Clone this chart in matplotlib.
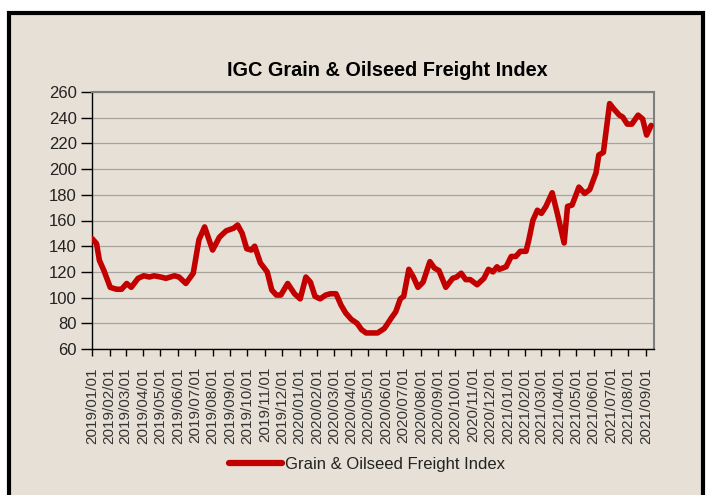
import matplotlib
matplotlib.use("Agg")
import matplotlib.pyplot as plt
import matplotlib.dates as mdates
from matplotlib.patches import Rectangle
import pandas as pd

plt.rcParams['font.family'] = ['Liberation Sans', 'DejaVu Sans']

title = "IGC Grain & Oilseed Freight Index"
series_name = "Grain & Oilseed Freight Index"

dates = [
    "2019-01-01", "2019-01-09", "2019-01-14", "2019-01-22", "2019-02-02", "2019-02-13",
    "2019-02-22", "2019-03-03", "2019-03-11", "2019-03-23", "2019-04-02", "2019-04-12",
    "2019-04-20", "2019-05-02", "2019-05-11", "2019-05-26", "2019-06-03", "2019-06-15",
    "2019-06-28", "2019-07-08", "2019-07-18", "2019-08-01", "2019-08-13", "2019-08-25",
    "2019-09-07", "2019-09-14", "2019-09-22", "2019-09-30", "2019-10-08", "2019-10-14",
    "2019-10-24", "2019-11-05", "2019-11-13", "2019-11-21", "2019-11-29", "2019-12-11",
    "2019-12-23", "2020-01-02", "2020-01-12", "2020-01-20", "2020-01-28", "2020-02-06",
    "2020-02-16", "2020-02-24", "2020-03-05", "2020-03-14", "2020-03-22", "2020-04-01",
    "2020-04-11", "2020-04-19", "2020-04-27", "2020-05-09", "2020-05-17", "2020-05-29",
    "2020-06-10", "2020-06-18", "2020-06-26", "2020-07-02", "2020-07-11", "2020-07-19",
    "2020-07-27", "2020-08-05", "2020-08-17", "2020-08-25", "2020-09-02", "2020-09-14",
    "2020-09-26", "2020-10-03", "2020-10-11", "2020-10-19", "2020-10-27", "2020-11-08",
    "2020-11-20", "2020-11-28", "2020-12-06", "2020-12-13", "2020-12-17", "2020-12-29",
    "2021-01-07", "2021-01-15", "2021-01-23", "2021-02-02", "2021-02-07", "2021-02-14",
    "2021-02-22", "2021-03-01", "2021-03-09", "2021-03-20", "2021-03-29", "2021-04-10",
    "2021-04-16", "2021-04-24", "2021-05-06", "2021-05-16", "2021-05-25", "2021-06-05",
    "2021-06-10", "2021-06-18", "2021-06-29", "2021-07-06", "2021-07-16", "2021-07-22",
    "2021-07-30", "2021-08-07", "2021-08-18", "2021-08-26", "2021-09-02", "2021-09-10",
]
values = [
    146, 142, 129, 121, 108, 106.5,
    106.5, 111, 108, 115, 117, 116,
    117, 116, 115, 117, 116, 111,
    119, 145, 155, 137, 147, 152,
    154, 156.5, 150, 138, 137, 140,
    127, 120, 106, 102, 102, 111,
    103, 99, 116, 112, 101, 99,
    102, 103, 103, 94, 88, 83,
    80, 75, 72.5, 72.5, 72.5, 76,
    84, 89, 99, 101, 122, 116,
    108, 112, 128, 123, 121, 108,
    115, 116, 119, 114, 114, 110,
    115, 122, 120, 124, 122, 124,
    132, 132, 136, 136, 145, 160,
    168, 165.5, 171, 181.6, 165.5, 142.5,
    171, 172, 186, 181, 184, 197,
    211, 213, 251, 247, 242, 240.5,
    235, 235, 242, 239, 226.5, 234,
]

tick_dates = pd.date_range("2019-01-01", "2021-09-01", freq="MS")
y_ticks = list(range(60, 261, 20))

bg = "#E6E0D6"
red = "#C30000"

fig = plt.figure(figsize=(7.08, 4.95), dpi=100, facecolor="white")
# outer panel with black frame (drawn behind the axes)
fig.patches.append(Rectangle((9 / 708, -0.05), (703 - 9) / 708, (1 - 13 / 495) + 0.05,
                             transform=fig.transFigure, facecolor=bg,
                             edgecolor="black", linewidth=3, zorder=-5))

ax = fig.add_axes([92 / 708, 1 - 349 / 495, (654 - 92) / 708, (349 - 92) / 495])
ax.set_zorder(1)
ax.set_facecolor(bg)

x = pd.to_datetime(dates)
line, = ax.plot(x, values, color=red, linewidth=4.0, solid_joinstyle="round",
                solid_capstyle="round", label=series_name, zorder=3)

ax.set_ylim(60, 260)
ax.set_yticks(y_ticks)
ax.set_xlim(pd.Timestamp("2019-01-01"), pd.Timestamp("2021-09-15"))
ax.set_xticks(tick_dates)
ax.xaxis.set_major_formatter(mdates.DateFormatter("%Y/%m/%d"))

ax.grid(axis="y", color="#A8A39C", linewidth=0.9, zorder=1)
ax.grid(axis="x", visible=False)

for s in ["top", "right"]:
    ax.spines[s].set_color("#7F7F7F")
    ax.spines[s].set_linewidth(1.5)
for s in ["left", "bottom"]:
    ax.spines[s].set_color("black")
    ax.spines[s].set_linewidth(1.0)

ax.tick_params(axis="y", direction="out", length=8, width=1, labelsize=12, pad=3,
               colors="black", labelcolor="#222222")
ax.tick_params(axis="x", direction="out", length=5, width=1, labelsize=11, pad=8,
               colors="black", labelcolor="#333333", labelrotation=90)

fig.text(387 / 708, 1 - 70 / 495, title, ha="center", va="center",
         fontsize=14.3, fontweight="bold", color="black")

leg = fig.legend(handles=[line], loc="center", bbox_to_anchor=(367 / 708, 1 - 464 / 495),
                 frameon=False, fontsize=12, handlelength=3.2, handletextpad=0.2,
                 labelcolor="#222222")
for h in leg.get_lines():
    h.set_linewidth(4.5)
    h.set_solid_capstyle("round")

fig.savefig("out.png", dpi=100, facecolor=fig.get_facecolor())
